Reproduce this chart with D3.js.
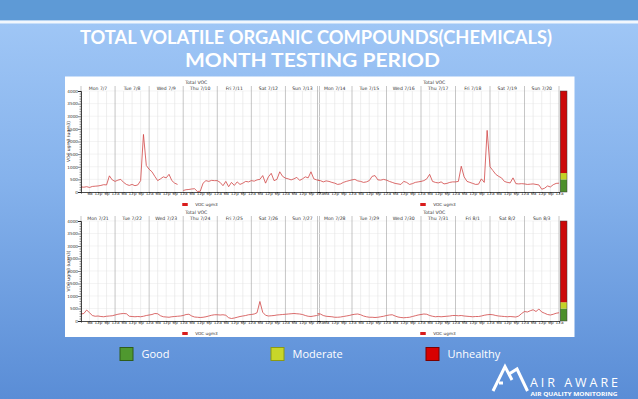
<!DOCTYPE html>
<html><head><meta charset="utf-8">
<script src="https://cdn.jsdelivr.net/npm/d3@7"></script>
<style>html,body{margin:0;padding:0;overflow:hidden;background:#fff}svg{display:block}</style>
</head><body>
<script>
// ---------- DATA (VOC ug/m3, readings every 2 hours, Mon 00:00 .. Sun 24:00) ----------
const week1Days = ["Mon 7/7","Tue 7/8","Wed 7/9","Thu 7/10","Fri 7/11","Sat 7/12","Sun 7/13"];
const week2Days = ["Mon 7/14","Tue 7/15","Wed 7/16","Thu 7/17","Fri 7/18","Sat 7/19","Sun 7/20"];
const week3Days = ["Mon 7/21","Tue 7/22","Wed 7/23","Thu 7/24","Fri 7/25","Sat 7/26","Sun 7/27"];
const week4Days = ["Mon 7/28","Tue 7/29","Wed 7/30","Thu 7/31","Fri 8/1","Sat 8/2","Sun 8/3"];

const week1 = [
  200,190,210,180,220,230,240,260,290,280,640,480,
  420,470,500,380,300,260,300,250,280,450,2280,1050,
  900,800,620,450,520,600,560,700,450,350,300,null,
  60,90,100,120,130,20,30,350,450,420,460,450,
  450,380,250,420,210,380,260,400,300,350,420,400,
  450,430,480,500,650,350,600,740,450,500,800,620,
  550,520,480,520,580,460,520,600,560,800,520,480,
  470];
const week2 = [
  470,450,400,440,420,380,350,300,320,380,420,450,
  480,500,440,420,380,400,450,620,650,480,470,500,
  470,420,380,340,320,300,420,380,300,330,380,400,
  420,450,520,700,420,380,360,400,320,340,380,400,
  400,420,1020,600,420,380,340,300,310,520,380,2440,
  1000,850,700,620,560,420,380,360,560,330,320,330,
  320,300,310,320,300,280,110,150,240,200,290,340,
  350];
const week3 = [
  280,300,440,330,220,190,200,180,170,190,200,210,
  240,270,290,300,290,190,180,170,180,170,190,220,
  240,260,300,290,210,170,160,150,170,180,190,200,
  220,260,270,200,160,150,140,150,170,200,230,250,
  250,240,250,230,130,100,120,150,180,200,220,250,
  260,280,330,780,350,230,200,210,220,240,250,260,
  270,280,290,300,290,280,260,220,190,180,200,220,
  250];
const week4 = [
  300,280,220,190,180,170,150,150,160,180,200,220,
  250,270,280,250,200,170,150,150,140,150,170,190,
  220,240,250,200,160,140,130,140,150,180,210,240,
  260,280,270,220,190,170,180,170,180,190,200,220,
  220,210,220,200,190,180,170,180,180,200,230,250,
  260,250,220,200,190,180,170,180,170,160,200,300,
  380,360,410,450,380,480,360,310,260,240,270,310,
  330];

const hourTickLabels = ["6a","12p","6p","12a"];
const yTickValues = [0,500,1000,1500,2000,2500,3000,3500,4000];
const bandNames  = ["Good","Moderate","Unhealthy"];
const bandLimits = [0,500,750,4000];
const bandColors = ["#4d8f2b","#c3d127","#cc0a0a"];
const chartTitle = "Total VOC";
const seriesName = "VOC ugm3";
const yAxisTitle = "VOC ugm3 (ugm3)";
const titleLines = ["TOTAL VOLATILE ORGANIC COMPOUNDS(CHEMICALS)","MONTH TESTING PERIOD"];

// ---------- DRAWING ----------
const W = 638, H = 399;
const svg = d3.select("body").append("svg").attr("width", W).attr("height", H);
const defs = svg.append("defs");
const g1 = defs.append("linearGradient").attr("id","bg").attr("x1",0).attr("y1",0).attr("x2",0).attr("y2",1);
g1.append("stop").attr("offset","0%").attr("stop-color","#a3c9f7");
g1.append("stop").attr("offset","45%").attr("stop-color","#85b2ec");
g1.append("stop").attr("offset","100%").attr("stop-color","#5a8dd6");

svg.append("rect").attr("x",0).attr("y",0).attr("width",W).attr("height",H).attr("fill","url(#bg)");
svg.append("rect").attr("x",0).attr("y",0).attr("width",W).attr("height",20.5).attr("fill","#5e9ad6");
svg.append("rect").attr("x",0).attr("y",20.5).attr("width",W).attr("height",3).attr("fill","#f2f7fd");

// Title
const tl = [{cx:316, y:43.5, len:472},{cx:312.5, y:67, len:255}];
titleLines.forEach((t,i)=>{
  svg.append("text").attr("x",tl[i].cx).attr("y",tl[i].y).attr("text-anchor","middle")
    .attr("font-family","Lato, 'Open Sans', sans-serif").attr("font-weight",700).attr("font-size",18)
    .attr("fill","#ffffff").attr("textLength",tl[i].len).attr("lengthAdjust","spacingAndGlyphs").text(t);
});

// White panel
svg.append("rect").attr("x",65).attr("y",76.5).attr("width",509.5).attr("height",260.5).attr("fill","#ffffff");

const cols = [[81,319.5],[317.5,559]];
const rows = [[192,91],[321,221]];
const panels = [
  {data:week1, days:week1Days, c:0, r:0},
  {data:week2, days:week2Days, c:1, r:0},
  {data:week3, days:week3Days, c:0, r:1},
  {data:week4, days:week4Days, c:1, r:1}
];
const FONT = "'DejaVu Sans', sans-serif";

panels.forEach(p=>{
  const [xa, xb] = cols[p.c];
  const [ya, yb] = rows[p.r];
  const x = d3.scaleLinear().domain([0,168]).range([xa,xb]);
  const y = d3.scaleLinear().domain([0,4000]).range([ya,yb]);
  const g = svg.append("g");

  // horizontal grid
  g.selectAll(".hg").data(yTickValues.slice(1)).enter().append("line")
    .attr("x1",xa).attr("x2",xb).attr("y1",d=>y(d)).attr("y2",d=>y(d))
    .attr("stroke","#ececec").attr("stroke-width",0.6);
  // 6-hour grid
  const sixH = d3.range(6,168,6).filter(h=>h%24!==0);
  g.selectAll(".vg").data(sixH).enter().append("line")
    .attr("x1",d=>x(d)).attr("x2",d=>x(d)).attr("y1",yb).attr("y2",ya)
    .attr("stroke","#e2e2e2").attr("stroke-width",0.6);
  // day lines
  g.selectAll(".dl").data(d3.range(0,169,24)).enter().append("line")
    .attr("x1",d=>x(d)).attr("x2",d=>x(d)).attr("y1",yb-5).attr("y2",ya)
    .attr("stroke","#a0a0a0").attr("stroke-width",0.6);

  // day labels
  g.selectAll(".dt").data(p.days).enter().append("text")
    .attr("x",(d,i)=>x(i*24+12)).attr("y",yb-1.5).attr("text-anchor","middle")
    .attr("font-family",FONT).attr("font-size",4.6).attr("fill","#333").text(d=>d);
  // chart title
  g.append("text").attr("x",(xa+xb)/2-4).attr("y",yb-7.5).attr("text-anchor","middle")
    .attr("font-family",FONT).attr("font-size",4.6).attr("fill","#333").text(chartTitle);

  // x axis
  const xAxis = d3.axisBottom(x).tickValues(d3.range(6,169,6)).tickSize(1.5)
    .tickFormat(d=>hourTickLabels[(d/6-1)%4]);
  const ax = g.append("g").attr("transform",`translate(0,${ya})`).call(xAxis);
  ax.select(".domain").attr("stroke","#000").attr("stroke-width",0.7);
  ax.selectAll(".tick line").attr("stroke","#000").attr("stroke-width",0.5);
  ax.selectAll(".tick text").attr("font-family",FONT).attr("font-size",4.2).attr("fill","#333").attr("dy","0.2em").attr("y",2.5);

  // series line
  const pts = p.data.map((v,i)=>({t:i*2, v:v}));
  const line = d3.line().defined(d=>d.v!==null).x(d=>x(d.t)).y(d=>y(d.v));
  g.append("path").datum(pts).attr("d",line).attr("fill","none")
    .attr("stroke","#d04545").attr("stroke-width",0.8).attr("stroke-linejoin","round");

  // legend under chart
  const lc = (xa+xb)/2;
  g.append("rect").attr("x",lc-18).attr("y",ya+11).attr("width",5.5).attr("height",3).attr("fill","#d91c1c");
  g.append("text").attr("x",lc-5).attr("y",ya+14).attr("font-family",FONT).attr("font-size",4.2).attr("fill","#333").text(seriesName);

  if (p.c===0) {
    const yAxis = d3.axisLeft(y).tickValues(yTickValues).tickSize(3).tickFormat(d3.format("d"));
    const ay = g.append("g").attr("transform",`translate(${xa},0)`).call(yAxis);
    ay.select(".domain").attr("stroke","#000").attr("stroke-width",0.7);
    ay.selectAll(".tick line").attr("stroke","#000").attr("stroke-width",0.5);
    ay.selectAll(".tick text").attr("font-family",FONT).attr("font-size",4.2).attr("fill","#333").attr("x",-3);
    // minor ticks
    const minor = d3.axisLeft(y).tickValues(d3.range(100,4000,100).filter(v=>v%500!==0)).tickSize(1.5).tickFormat("");
    const am = g.append("g").attr("transform",`translate(${xa},0)`).call(minor);
    am.select(".domain").remove();
    am.selectAll(".tick line").attr("stroke","#000").attr("stroke-width",0.4);
    g.append("text").attr("transform",`translate(${xa-11},${(ya+yb)/2}) rotate(-90)`)
      .attr("text-anchor","middle").attr("font-family",FONT).attr("font-size",4.4).attr("fill","#333").text(yAxisTitle);
  } else {
    // severity colour bar
    const bx = xb+1.2, bw = 6.8;
    g.selectAll(".band").data(bandColors).enter().append("rect")
      .attr("x",bx).attr("width",bw)
      .attr("y",(d,i)=>y(bandLimits[i+1])).attr("height",(d,i)=>y(bandLimits[i])-y(bandLimits[i+1]))
      .attr("fill",d=>d);
    g.append("rect").attr("x",bx).attr("y",y(4000)).attr("width",bw).attr("height",y(0)-y(4000))
      .attr("fill","none").attr("stroke","#3a3a3a").attr("stroke-width",0.5);
  }
});

// Bottom legend
const legX = [120, 271, 426];
const legBorder = ["#2e5c1a","#8c9a12","#7a0000"];
const legColors = ["#4f982f","#c8d62a","#d80000"];
bandNames.forEach((n,i)=>{
  svg.append("rect").attr("x",legX[i]).attr("y",347.5).attr("width",13).attr("height",13)
    .attr("fill",legColors[i]).attr("stroke",legBorder[i]).attr("stroke-width",1);
  svg.append("text").attr("x",legX[i]+21.5).attr("y",358).attr("font-family","'Open Sans', sans-serif")
    .attr("font-size",11).attr("fill","#ffffff").text(n);
});

// Logo
const logo = svg.append("g");
logo.append("path").attr("d","M493,391 L505,366.5 L512,380 M509,374 L517,369 L527.5,391 M499,383 L503,383")
  .attr("fill","none").attr("stroke","#ffffff").attr("stroke-width",3).attr("stroke-linejoin","miter");
logo.append("text").attr("x",530).attr("y",387).attr("font-family","'Open Sans', sans-serif").attr("font-size",12.5)
  .attr("fill","#ffffff").attr("textLength",88).attr("lengthAdjust","spacing").text("AIR AWARE");
logo.append("text").attr("x",530.5).attr("y",396).attr("font-family","'Open Sans', sans-serif").attr("font-weight",700).attr("font-size",4.6)
  .attr("fill","#ffffff").attr("textLength",87).attr("lengthAdjust","spacingAndGlyphs").text("AIR QUALITY MONITORING");
</script>
</body></html>
